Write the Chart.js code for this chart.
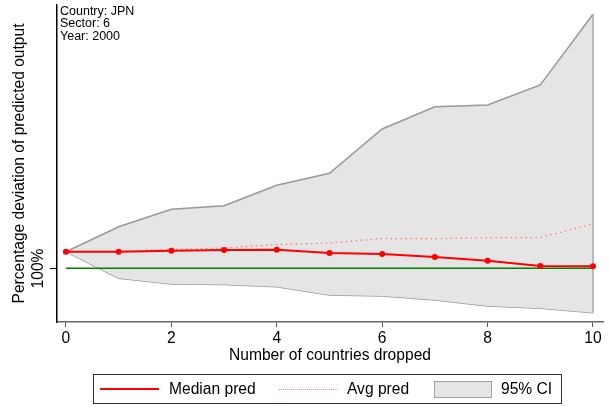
<!DOCTYPE html>
<html>
<head>
<meta charset="utf-8">
<script src="https://cdn.jsdelivr.net/npm/chart.js@4.4.1/dist/chart.umd.min.js"></script>
<style>
  html, body { margin: 0; padding: 0; background: #fff; }
  body { width: 609px; height: 407px; position: relative; overflow: hidden;
         font-family: "Liberation Sans", Arial, sans-serif; }
  #wrap { position: absolute; left: 0; top: 0; width: 609px; height: 407px; }
  .note { position: absolute; left: 60px; top: 5px; font-size: 12.5px; line-height: 12.3px; color: #000; }
  .legend { position: absolute; left: 93px; top: 374px; width: 467px; height: 28px;
            border: 1px solid #333; box-sizing: content-box; font-size: 15.6px; color: #000; }
  .legend span { position: absolute; top: 5px; }
  .sw { position: absolute; }
</style>
</head>
<body>
<div id="wrap"><canvas id="chart" width="609" height="407"></canvas></div>
<div class="note">Country: JPN<br>Sector: 6<br>Year: 2000</div>
<div class="legend">
  <div class="sw" style="left:6px; top:13px; width:59px; height:0; border-top:2px solid #ff0000;"></div>
  <span style="left:75px;">Median pred</span>
  <div class="sw" style="left:185px; top:14px; width:59px; height:0; border-top:1px dotted #ff8080;"></div>
  <span style="left:253px;">Avg pred</span>
  <div class="sw" style="left:340px; top:6px; width:56px; height:15px; border:1px solid #a0a0a0; background:#e5e5e5;"></div>
  <span style="left:407px;">95% CI</span>
</div>
<script>
// countries dropped
var dropped = [0, 1, 2, 3, 4, 5, 6, 7, 8, 9, 10];
// percentage of predicted output (100 = baseline)
var medianPred = [101.66, 101.66, 101.76, 101.83, 101.86, 101.53, 101.43, 101.13, 100.76, 100.23, 100.20];
var avgPred    = [101.66, 101.68, 101.88, 102.03, 102.38, 102.53, 102.98, 102.96, 103.06, 103.08, 104.43];
var ciUpper    = [101.66, 104.16, 105.90, 106.26, 108.30, 109.50, 113.93, 116.16, 116.33, 118.33, 125.40];
var ciLower    = [101.66, 99.00, 98.43, 98.38, 98.16, 97.33, 97.23, 96.83, 96.23, 96.00, 95.56];
var baseline = 100;
var xTicks = [0, 2, 4, 6, 8, 10];
var yTicks = [100];

var FONT = '"Liberation Sans", Arial, sans-serif';

function pts(ys) {
  return dropped.map(function (x, i) { return { x: x, y: ys[i] }; });
}
var last = dropped.length - 1;

// rotated y tick label + tick mark, Stata style
var yLabelPlugin = {
  id: 'yLabel',
  afterDraw: function (chart) {
    var ctx = chart.ctx;
    var ys = chart.scales.y;
    ctx.save();
    ctx.font = '15.6px ' + FONT;
    ctx.fillStyle = '#000';
    ctx.strokeStyle = '#000';
    ctx.lineWidth = 1;
    ctx.textAlign = 'center';
    ctx.textBaseline = 'middle';
    yTicks.forEach(function (v) {
      var py = Math.round(ys.getPixelForValue(v)) + 0.5;
      ctx.beginPath();
      ctx.moveTo(ys.right - 7, py);
      ctx.lineTo(ys.right, py);
      ctx.stroke();
      ctx.save();
      ctx.translate(39, py);
      ctx.rotate(-Math.PI / 2);
      ctx.fillText(v + '%', 0, 0);
      ctx.restore();
    });
    ctx.restore();
  }
};

var ctx = document.getElementById('chart').getContext('2d');
var chart = new Chart(ctx, {
  type: 'line',
  data: {
    datasets: [{
      label: 'Median pred',
      data: pts(medianPred),
      borderColor: '#ff0000',
      backgroundColor: '#ff0000',
      borderWidth: 2,
      pointRadius: 3,
      pointBorderWidth: 0,
      order: 0
    }, {
      label: 'Avg pred',
      data: pts(avgPred),
      borderColor: '#ff7070',
      borderWidth: 1.2,
      borderDash: [1.5, 3.5],
      pointRadius: 0,
      order: 1
    }, {
      label: 'baseline',
      data: [{ x: dropped[0], y: baseline }, { x: dropped[last], y: baseline }],
      borderColor: '#008000',
      borderWidth: 1.5,
      pointRadius: 0,
      order: 2
    }, {
      label: '95% CI',
      data: pts(ciUpper),
      borderColor: '#999999',
      borderWidth: 1.5,
      backgroundColor: '#e5e5e5',
      fill: '+1',
      pointRadius: 0,
      order: 4
    }, {
      label: 'ci lower',
      data: pts(ciLower),
      borderColor: '#999999',
      borderWidth: 1.5,
      pointRadius: 0,
      order: 4
    }, {
      label: 'ci edge',
      data: [{ x: dropped[last], y: ciLower[last] }, { x: dropped[last], y: ciUpper[last] }],
      borderColor: '#aaaaaa',
      borderWidth: 1.5,
      pointRadius: 0,
      order: 3
    }]
  },
  options: {
    responsive: false,
    animation: false,
    layout: { padding: { left: 0, top: 5, right: 6, bottom: 42 } },
    plugins: { legend: { display: false }, tooltip: { enabled: false } },
    elements: { line: { tension: 0 } },
    scales: {
      x: {
        type: 'linear',
        min: -0.17,
        max: 10.19,
        afterBuildTicks: function (s) { s.ticks = xTicks.map(function (v) { return { value: v }; }); },
        afterFit: function (s) { s.height = 43; },
        ticks: { color: '#000', font: { size: 15.6, family: FONT }, padding: 2, maxRotation: 0 },
        grid: { drawOnChartArea: false, drawTicks: true, tickLength: 5, color: '#555', lineWidth: 1 },
        border: { color: '#666', width: 1.5 },
        title: {
          display: true, text: 'Number of countries dropped', color: '#000',
          font: { size: 15.6, family: FONT },
          padding: { top: 0, bottom: 0 }
        }
      },
      y: {
        type: 'linear',
        min: 94.63,
        max: 126.33,
        afterBuildTicks: function (s) { s.ticks = yTicks.map(function (v) { return { value: v }; }); },
        afterFit: function (s) { s.width = 57; },
        ticks: { display: false },
        grid: { display: false },
        border: { color: '#000', width: 1.5 },
        title: {
          display: true, text: 'Percentage deviation of predicted output', color: '#000',
          font: { size: 15.6, family: FONT },
          padding: { top: 10, bottom: 0 }
        }
      }
    }
  },
  plugins: [yLabelPlugin]
});
</script>
</body>
</html>
